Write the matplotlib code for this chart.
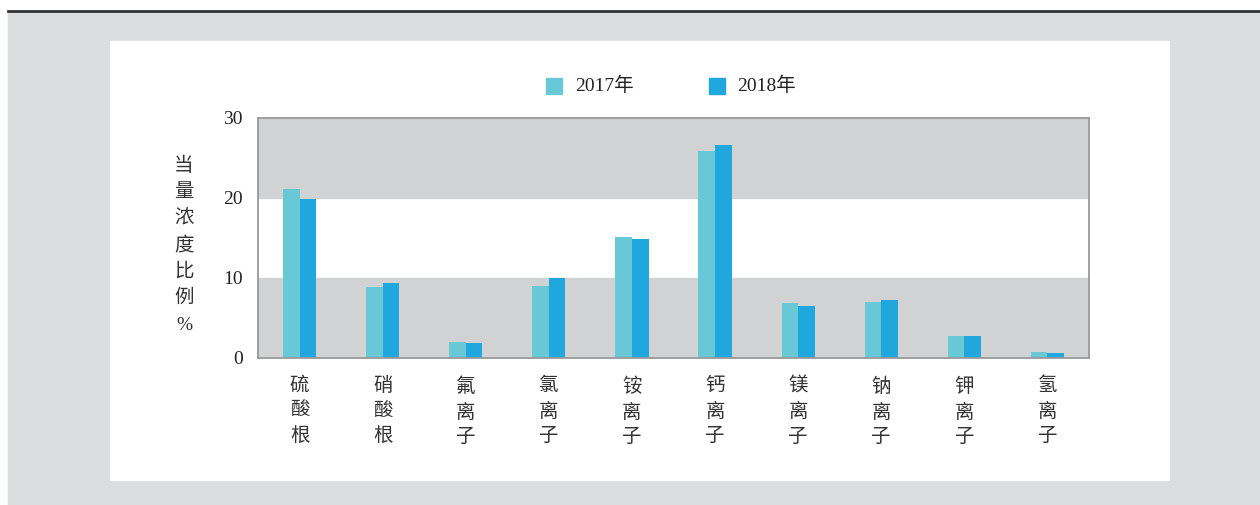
import matplotlib.pyplot as plt
from matplotlib.patches import Rectangle
from matplotlib.lines import Line2D
import numpy as np

categories = ["硫\n酸\n根", "硝\n酸\n根", "氟\n离\n子", "氯\n离\n子", "铵\n离\n子",
              "钙\n离\n子", "镁\n离\n子", "钠\n离\n子", "钾\n离\n子", "氢\n离\n子"]
values_2017 = [21.1, 8.9, 2.05, 9.0, 15.1, 25.9, 6.85, 7.05, 2.8, 0.75]
values_2018 = [19.9, 9.4, 1.85, 9.95, 14.9, 26.6, 6.45, 7.3, 2.7, 0.65]
series_labels = ["2017年", "2018年"]
yticks = [0, 10, 20, 30]
ylabel_chars = ["当", "量", "浓", "度", "比", "例", "%"]

C17 = "#69C8D6"
C18 = "#20A8DE"
BAND = "#D1D2D4"
FONT = ["Liberation Serif", "Noto Sans CJK SC"]

W, H = 1260, 505
fig = plt.figure(figsize=(W / 100, H / 100), dpi=100, facecolor="white")


def px_rect(x0, y0, x1, y1, color):
    # pixel box (y measured from the top) -> figure fraction rectangle
    fig.patches.append(Rectangle((x0 / W, 1 - y1 / H), (x1 - x0) / W, (y1 - y0) / H,
                                 transform=fig.transFigure, color=color, zorder=-10))


px_rect(8, 12, W, H, "#DCDDDE")
px_rect(110, 41, 1169, 480, "white")
fig.lines.append(Line2D([8 / W, 1], [1 - 11 / H] * 2, transform=fig.transFigure,
                        color="#333333", lw=2))

ax = fig.add_axes([258 / W, (H - 358) / H, (1089 - 258) / W, (358 - 118) / H])
ax.set_facecolor("white")
ax.axhspan(0, 10, color=BAND, zorder=0)
ax.axhspan(20, 30, color=BAND, zorder=0)

x = np.arange(len(categories))
ax.bar(x - 0.1, values_2017, width=0.2, color=C17, zorder=2)
ax.bar(x + 0.1, values_2018, width=0.2, color=C18, zorder=2)

ax.set_xlim(-0.5, len(categories) - 0.5)
ax.set_ylim(0, 30)
ax.set_yticks(yticks)
ax.set_yticklabels([str(v) for v in yticks], family=FONT, fontsize=14, color="#222222",
                   va="center_baseline")
ax.set_xticks(x)
ax.set_xticklabels(categories, family=FONT, fontsize=14, color="#333333",
                   linespacing=1.55, fontweight="light")
ax.tick_params(axis="both", length=0)
ax.tick_params(axis="y", pad=11)
ax.tick_params(axis="x", pad=14)
for s in ax.spines.values():
    s.set_color("#999999")
    s.set_linewidth(1.3)

# vertical y-axis label, one character per line
for i, ch in enumerate(ylabel_chars):
    fig.text(184 / W, 1 - (166 + i * 26.5) / H, ch, family=FONT, fontsize=14,
             color="#333333", ha="center", va="center", fontweight="light")

# legend
for (px0, tx, col, lab) in [(546, 575, C17, series_labels[0]),
                            (709, 737, C18, series_labels[1])]:
    px_rect(px0, 78, px0 + 16, 94, col)
    fig.text(tx / W, 1 - 86 / H, lab, family=FONT, fontsize=14, color="#222222",
             ha="left", va="center")

fig.savefig("out.png", dpi=100)
